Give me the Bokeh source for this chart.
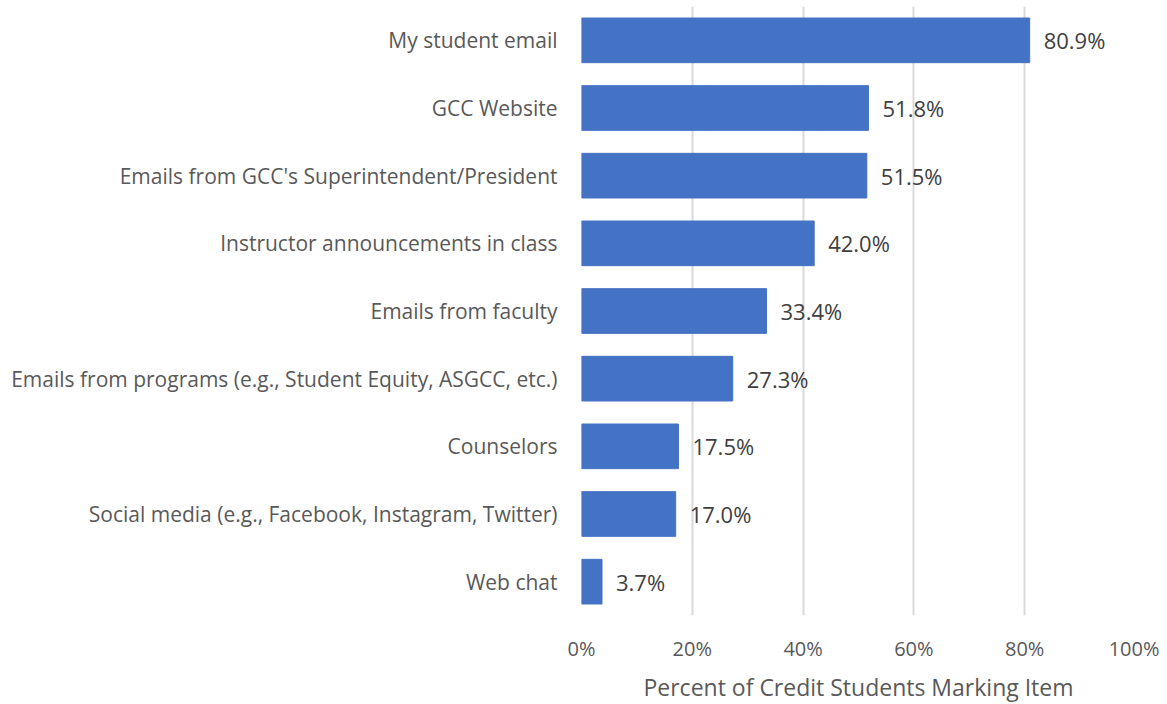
from bokeh.plotting import figure
from bokeh.models import FactorRange, Range1d, FixedTicker, PrintfTickFormatter, ColumnDataSource
from bokeh.core.properties import value
from bokeh.embed import file_html
from bokeh.resources import INLINE

categories = [
    "My student email",
    "GCC Website",
    "Emails from GCC's Superintendent/President",
    "Instructor announcements in class",
    "Emails from faculty",
    "Emails from programs (e.g., Student Equity, ASGCC, etc.)",
    "Counselors",
    "Social media (e.g., Facebook, Instagram, Twitter)",
    "Web chat",
]
percentages = [80.9, 51.8, 51.5, 42.0, 33.4, 27.3, 17.5, 17.0, 3.7]
x_ticks = [0, 20, 40, 60, 80, 100]
x_title = "Percent of Credit Students Marking Item"

FONT = "Open Sans"
BAR = "#4472C4"

labels = [f"{v:.1f}%" for v in percentages]
src = ColumnDataSource(dict(cat=categories, val=percentages, lab=labels))

p = figure(
    frame_width=554, frame_height=609,
    y_range=FactorRange(factors=list(reversed(categories))),
    x_range=Range1d(0, 100),
    output_backend="svg", toolbar_location=None,
    min_border_left=581, min_border_right=24, min_border_top=6, min_border_bottom=80,
)
p.outline_line_color = None
p.background_fill_color = "white"
p.border_fill_color = "white"

p.hbar(y="cat", right="val", left=0, height=0.66, source=src,
       fill_color=BAR, line_color=BAR)
p.text(x="val", y="cat", text="lab", source=src, x_offset=14,
       text_baseline="middle", text_align="left",
       text_font=value(FONT), text_font_size="22px", text_color="#404040")

# x axis
p.xaxis.ticker = FixedTicker(ticks=x_ticks)
p.xaxis.formatter = PrintfTickFormatter(format="%d%%")
p.xaxis.axis_line_color = None
p.xaxis.major_tick_line_color = None
p.xaxis.minor_tick_line_color = None
p.xaxis.major_tick_out = 0
p.xaxis.major_label_standoff = 19
p.xaxis.major_label_text_font = FONT
p.xaxis.major_label_text_font_size = "20px"
p.xaxis.major_label_text_color = "#595959"
p.xaxis.axis_label = x_title
p.xaxis.axis_label_text_font = FONT
p.xaxis.axis_label_text_font_size = "23px"
p.xaxis.axis_label_text_font_style = "normal"
p.xaxis.axis_label_text_color = "#595959"
p.xaxis.axis_label_standoff = 6

# y axis
p.yaxis.axis_line_color = None
p.yaxis.major_tick_line_color = None
p.yaxis.major_tick_out = 0
p.yaxis.major_label_standoff = 24
p.yaxis.major_label_text_font = FONT
p.yaxis.major_label_text_font_size = "21px"
p.yaxis.major_label_text_color = "#595959"

# grid
p.xgrid.grid_line_color = "#D9D9D9"
p.xgrid.grid_line_width = 2
p.ygrid.grid_line_color = None

open("out.html", "w").write(file_html(p, INLINE))
